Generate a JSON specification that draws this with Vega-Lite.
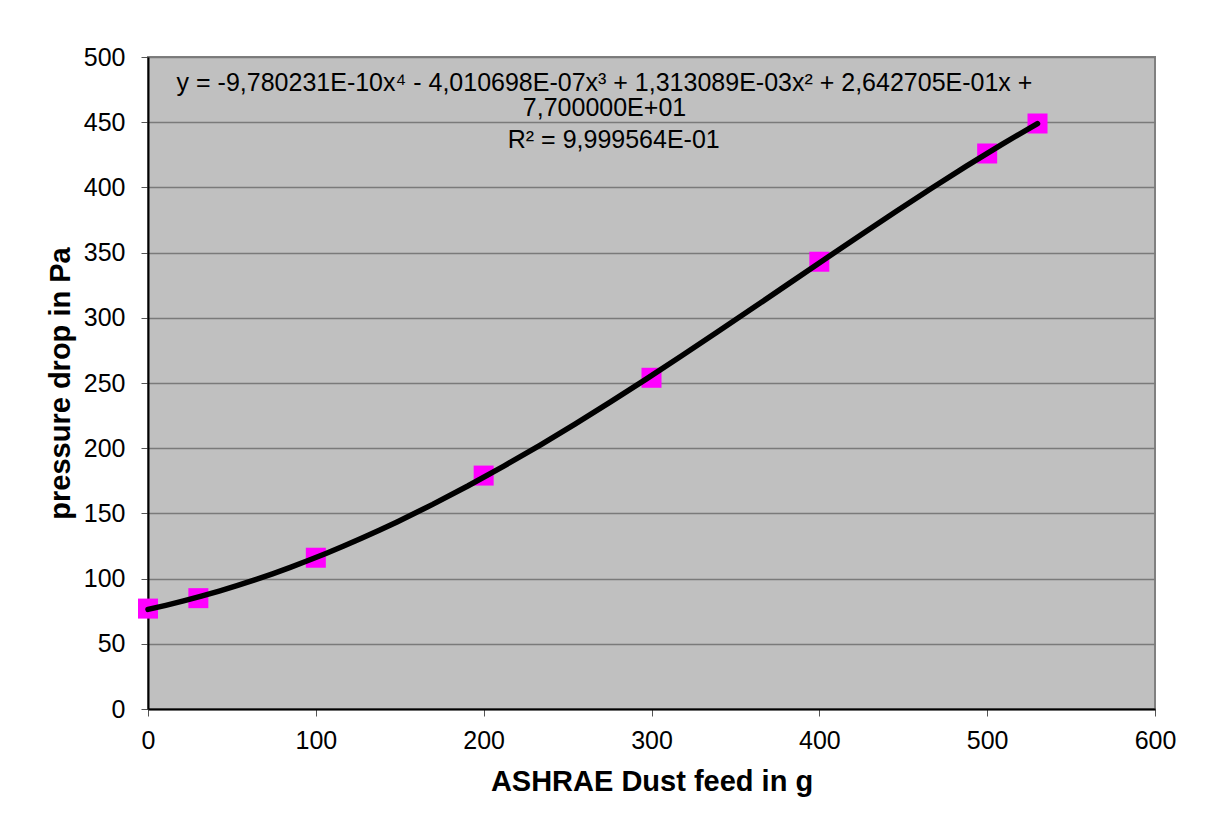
{
  "$schema": "https://vega.github.io/schema/vega-lite/v6.json",
  "width": 1007,
  "height": 652,
  "autosize": {"type": "none"},
  "padding": {"left": 148, "top": 57, "right": 67, "bottom": 127},
  "background": "white",
  "config": {
    "font": "Liberation Sans",
    "view": {"fill": "#C0C0C0", "stroke": "#808080", "strokeWidth": 2},
    "axis": {
      "domainColor": "#000000",
      "domainWidth": 2,
      "tickColor": "#555555",
      "tickWidth": 1,
      "tickSize": 7,
      "labelFont": "Liberation Sans",
      "labelFontSize": 25,
      "labelColor": "#000000",
      "labelFlush": false,
      "labelOverlap": false,
      "titleFont": "Liberation Sans",
      "titleFontSize": 29,
      "titleFontWeight": "bold",
      "titleColor": "#000000"
    }
  },
  "layer": [
    {
      "data": {
        "values": [
          {"feed": 0, "dp": 77},
          {"feed": 30, "dp": 85},
          {"feed": 100, "dp": 116},
          {"feed": 200, "dp": 179},
          {"feed": 300, "dp": 254},
          {"feed": 400, "dp": 343},
          {"feed": 500, "dp": 426},
          {"feed": 530, "dp": 449}
        ],
        "name": "pts"
      },
      "layer": [
        {
          "mark": {"type": "square", "size": 400, "color": "#FF00FF", "opacity": 1},
          "encoding": {
            "x": {
              "field": "feed",
              "type": "quantitative",
              "scale": {"domain": [0, 600], "nice": false, "zero": false},
              "axis": {
                "values": [0, 100, 200, 300, 400, 500, 600],
                "grid": false,
                "labelPadding": 12,
                "title": "ASHRAE Dust feed in g",
                "titleY": 81,
                "titleBaseline": "alphabetic"
              }
            },
            "y": {
              "field": "dp",
              "type": "quantitative",
              "scale": {"domain": [0, 500], "nice": false},
              "axis": {
                "values": [0, 50, 100, 150, 200, 250, 300, 350, 400, 450, 500],
                "grid": true,
                "gridColor": "#7a7a7a",
                "gridWidth": 1.5,
                "labelPadding": 16,
                "title": "pressure drop in Pa",
                "titleX": -79,
                "titleY": 326,
                "titleAngle": 270,
                "titleAlign": "center",
                "titleBaseline": "alphabetic"
              }
            }
          }
        },
        {
          "transform": [{"regression": "dp", "on": "feed", "method": "poly", "order": 4}],
          "mark": {"type": "line", "color": "#000000", "strokeWidth": 5.5, "strokeCap": "round"},
          "encoding": {
            "x": {"field": "feed", "type": "quantitative"},
            "y": {"field": "dp", "type": "quantitative"}
          }
        }
      ]
    },
    {
      "data": {"values": [{"label": "equation"}]},
      "mark": {"type": "text", "fontSize": 25, "fontWeight": "normal", "align": "center", "baseline": "middle", "lineHeight": 25, "color": "#000000", "font": "Liberation Sans"},
      "encoding": {
        "x": {"datum": 272, "type": "quantitative"},
        "y": {"datum": 480, "type": "quantitative"},
        "text": {"value": ["y = -9,780231E-10x⁴ - 4,010698E-07x³ + 1,313089E-03x² + 2,642705E-01x +", "7,700000E+01"]}
      }
    },
    {
      "data": {"values": [{"label": "r2"}]},
      "mark": {"type": "text", "fontSize": 25, "fontWeight": "normal", "align": "center", "baseline": "middle", "color": "#000000", "font": "Liberation Sans"},
      "encoding": {
        "x": {"datum": 277.5, "type": "quantitative"},
        "y": {"datum": 436.3, "type": "quantitative"},
        "text": {"value": "R² = 9,999564E-01"}
      }
    }
  ]
}
